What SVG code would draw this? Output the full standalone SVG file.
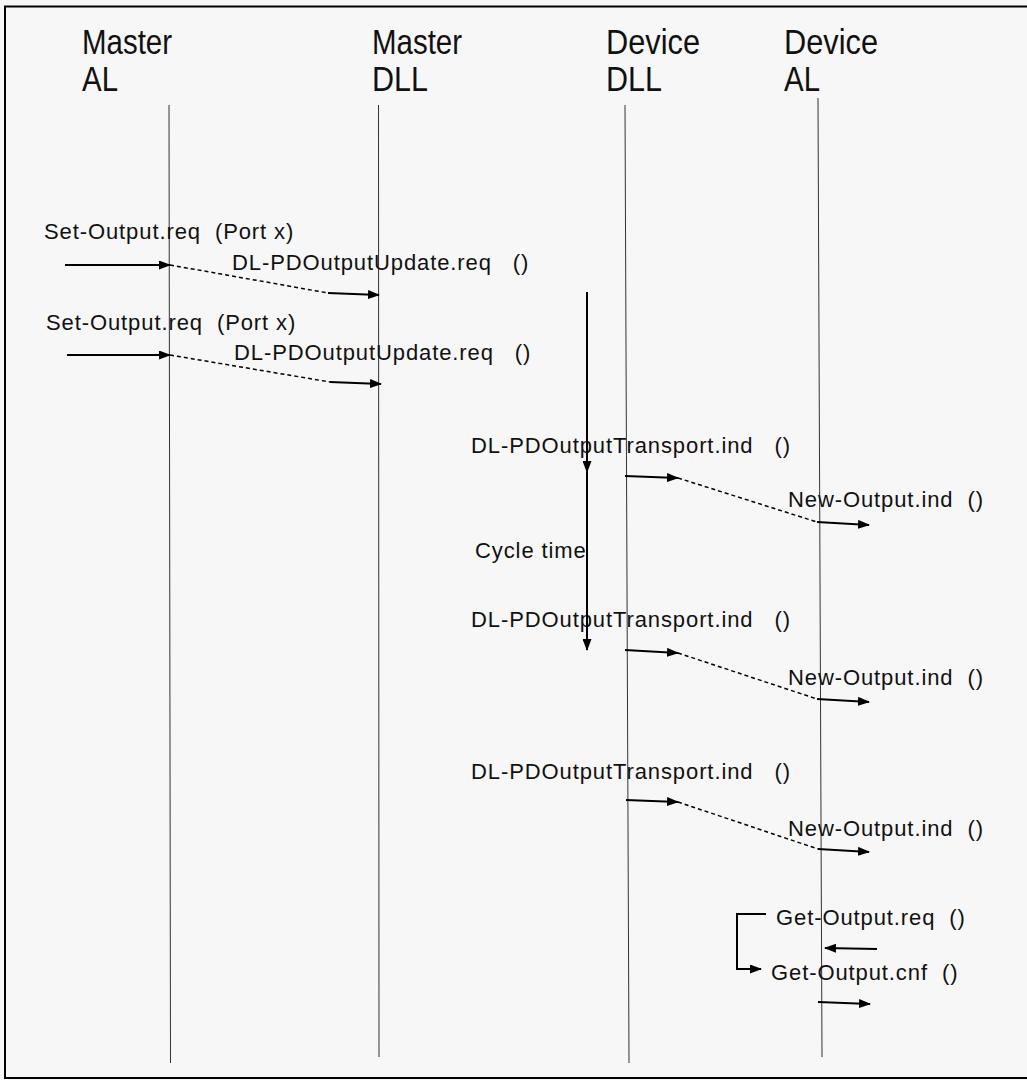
<svg xmlns="http://www.w3.org/2000/svg" width="1027" height="1080" viewBox="0 0 1027 1080">
  <style>
    .head { font-family: "Liberation Sans Narrow", "Liberation Sans", Arial, sans-serif; font-size: 35px; fill: #111; }
    .lbl { font-family: "Liberation Sans", Arial, sans-serif; font-size: 22px; letter-spacing: 0.9px; fill: #111; white-space: pre; }
    .life { stroke: #333; stroke-width: 1; fill: none; }
    .msg { stroke: #000; stroke-width: 2; fill: none; }
    .dash { stroke: #000; stroke-width: 1.5; stroke-dasharray: 4 3; fill: none; }
  </style>
  <defs>
    <marker id="ah" markerUnits="userSpaceOnUse" markerWidth="12" markerHeight="9" refX="11" refY="4.5" orient="auto">
      <path d="M0,0 L12,4.5 L0,9 z" fill="#000"/>
    </marker>
  </defs>

  <!-- page background and frame -->
  <rect x="0" y="0" width="1027" height="1080" fill="#f7f7f7"/>
  <rect x="5" y="6.5" width="1030" height="1071.5" fill="none" stroke="#000" stroke-width="2"/>

  <!-- lifelines -->
  <g id="master-al">
    <text class="head" x="82" y="54" textLength="90" lengthAdjust="spacingAndGlyphs">Master</text>
    <text class="head" x="82" y="91" textLength="36" lengthAdjust="spacingAndGlyphs">AL</text>
    <line class="life" x1="169" y1="105" x2="170.5" y2="1063"/>
  </g>
  <g id="master-dll">
    <text class="head" x="372" y="54" textLength="90" lengthAdjust="spacingAndGlyphs">Master</text>
    <text class="head" x="372" y="91" textLength="56" lengthAdjust="spacingAndGlyphs">DLL</text>
    <line class="life" x1="378.5" y1="105" x2="379" y2="1057"/>
  </g>
  <g id="device-dll">
    <text class="head" x="606" y="54" textLength="94" lengthAdjust="spacingAndGlyphs">Device</text>
    <text class="head" x="606" y="91" textLength="56" lengthAdjust="spacingAndGlyphs">DLL</text>
    <line class="life" x1="625" y1="105" x2="629" y2="1063"/>
  </g>
  <g id="device-al">
    <text class="head" x="784" y="54" textLength="94" lengthAdjust="spacingAndGlyphs">Device</text>
    <text class="head" x="784" y="91" textLength="36" lengthAdjust="spacingAndGlyphs">AL</text>
    <line class="life" x1="818" y1="98" x2="822" y2="1057"/>
  </g>

  <!-- message labels -->
  <g id="labels" xml:space="preserve">
    <text class="lbl" x="44" y="239">Set-Output.req  (Port x)</text>
    <text class="lbl" x="232" y="270">DL-PDOutputUpdate.req   ()</text>
    <text class="lbl" x="46" y="330">Set-Output.req  (Port x)</text>
    <text class="lbl" x="234" y="360">DL-PDOutputUpdate.req   ()</text>
    <text class="lbl" x="471" y="453">DL-PDOutputTransport.ind   ()</text>
    <text class="lbl" x="788" y="507">New-Output.ind  ()</text>
    <text class="lbl" x="475" y="558">Cycle time</text>
    <text class="lbl" x="471" y="627">DL-PDOutputTransport.ind   ()</text>
    <text class="lbl" x="788" y="685">New-Output.ind  ()</text>
    <text class="lbl" x="471" y="779">DL-PDOutputTransport.ind   ()</text>
    <text class="lbl" x="788" y="836">New-Output.ind  ()</text>
    <text class="lbl" x="776" y="925">Get-Output.req  ()</text>
    <text class="lbl" x="771" y="980">Get-Output.cnf  ()</text>
  </g>

  <!-- connectors -->
  <g id="connectors">
    <!-- Set-Output.req -> DL-PDOutputUpdate.req (1) -->
    <line class="msg" x1="65" y1="265" x2="170" y2="265" marker-end="url(#ah)"/>
    <line class="dash" x1="170" y1="265" x2="328" y2="293"/>
    <line class="msg" x1="328" y1="293" x2="379" y2="295" marker-end="url(#ah)"/>
    <!-- Set-Output.req -> DL-PDOutputUpdate.req (2) -->
    <line class="msg" x1="67" y1="355" x2="170" y2="355" marker-end="url(#ah)"/>
    <line class="dash" x1="170" y1="355" x2="330" y2="382"/>
    <line class="msg" x1="330" y1="382" x2="381" y2="384" marker-end="url(#ah)"/>
    <!-- cycle time -->
    <path class="msg" d="M587,292 L587,472 L587,650" marker-mid="url(#ah)" marker-end="url(#ah)"/>
    <!-- transport / new output (1) -->
    <line class="msg" x1="625" y1="476" x2="678" y2="478" marker-end="url(#ah)"/>
    <line class="dash" x1="678" y1="478" x2="817" y2="522"/>
    <line class="msg" x1="817" y1="522" x2="869" y2="525" marker-end="url(#ah)"/>
    <!-- transport / new output (2) -->
    <line class="msg" x1="625" y1="650" x2="678" y2="653" marker-end="url(#ah)"/>
    <line class="dash" x1="678" y1="653" x2="817" y2="699"/>
    <line class="msg" x1="817" y1="699" x2="869" y2="702" marker-end="url(#ah)"/>
    <!-- transport / new output (3) -->
    <line class="msg" x1="626" y1="800" x2="678" y2="802" marker-end="url(#ah)"/>
    <line class="dash" x1="678" y1="802" x2="818" y2="849"/>
    <line class="msg" x1="818" y1="849" x2="869" y2="852" marker-end="url(#ah)"/>
    <!-- get output -->
    <polyline class="msg" points="766,914 737,914 737,969 761,969" marker-end="url(#ah)"/>
    <line class="msg" x1="877" y1="949" x2="825" y2="948" marker-end="url(#ah)"/>
    <line class="msg" x1="818" y1="1002" x2="870" y2="1004" marker-end="url(#ah)"/>
  </g>
</svg>
